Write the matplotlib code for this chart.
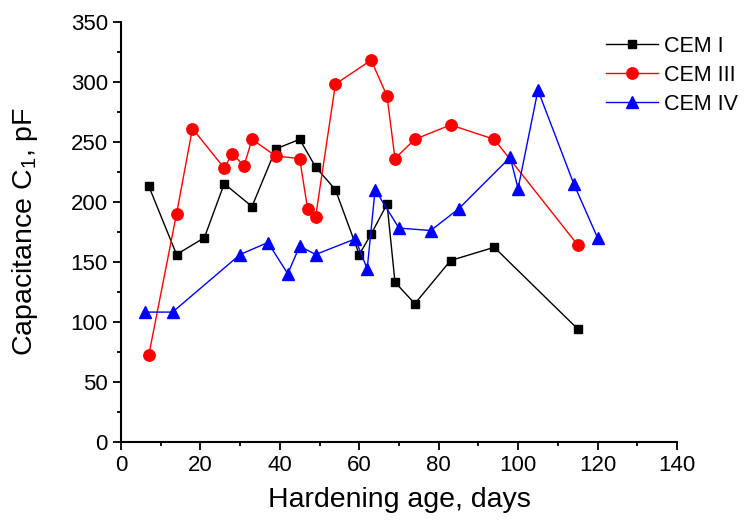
import matplotlib
matplotlib.use("Agg")
import matplotlib.pyplot as plt
from matplotlib.ticker import MultipleLocator

plt.rcParams['font.family'] = ['Liberation Sans', 'DejaVu Sans']
plt.rcParams['mathtext.fontset'] = 'custom'
plt.rcParams['mathtext.rm'] = 'Liberation Sans'
plt.rcParams['mathtext.it'] = 'Liberation Sans:italic'

# CEM I
cem1_x = [7, 14, 21, 26, 33, 39, 45, 49, 54, 60, 63, 67, 69, 74, 83, 94, 115]
cem1_y = [213, 156, 170, 215, 196, 244, 252, 229, 210, 156, 173, 198, 133, 115, 151, 162, 94]
# CEM III
cem3_x = [7, 14, 18, 26, 28, 31, 33, 39, 45, 47, 49, 54, 63, 67, 69, 74, 83, 94, 115]
cem3_y = [72, 190, 261, 228, 240, 230, 252, 238, 236, 194, 187, 298, 318, 288, 236, 252, 264, 252, 164]
# CEM IV
cem4_x = [6, 13, 30, 37, 42, 45, 49, 59, 62, 64, 70, 78, 85, 98, 100, 105, 114, 120]
cem4_y = [108, 108, 156, 166, 140, 163, 156, 169, 144, 210, 178, 176, 194, 237, 211, 293, 215, 170]

labels = ["CEM I", "CEM III", "CEM IV"]

fig = plt.figure(figsize=(7.49, 5.26), dpi=100)
ax = fig.add_axes([0.1615, 0.1603, 0.7423, 0.7984])

ax.plot(cem1_x, cem1_y, color='black', marker='s', markersize=6.3, linewidth=1.0, label=labels[0])
ax.plot(cem3_x, cem3_y, color='#ff0000', marker='o', markersize=8.2, linewidth=1.0, label=labels[1])
ax.plot(cem4_x, cem4_y, color='#0000ff', marker='^', markersize=8.5, linewidth=1.0, label=labels[2])

ax.set_xlim(0, 140)
ax.set_ylim(0, 350)
ax.xaxis.set_major_locator(MultipleLocator(20))
ax.xaxis.set_minor_locator(MultipleLocator(10))
ax.yaxis.set_major_locator(MultipleLocator(50))
ax.yaxis.set_minor_locator(MultipleLocator(25))

for s in ['top', 'right']:
    ax.spines[s].set_visible(False)
for s in ['left', 'bottom']:
    ax.spines[s].set_linewidth(1.5)

ax.tick_params(which='major', direction='out', length=5.5, width=1.3, labelsize=16, pad=4)
ax.tick_params(which='minor', direction='out', length=2.8, width=1.3)

ax.set_xlabel("Hardening age, days", fontsize=20.5, labelpad=8)
ax.set_ylabel("Capacitance C$_1$, pF", fontsize=20.5, labelpad=22)

leg = ax.legend(loc='upper left', bbox_to_anchor=(606/749, 1 - 36/526),
                bbox_transform=fig.transFigure, frameon=False, fontsize=15.5,
                handlelength=2.4, handletextpad=0.3, labelspacing=0.37,
                borderpad=0, borderaxespad=0)

fig.savefig("out.png", dpi=100)
